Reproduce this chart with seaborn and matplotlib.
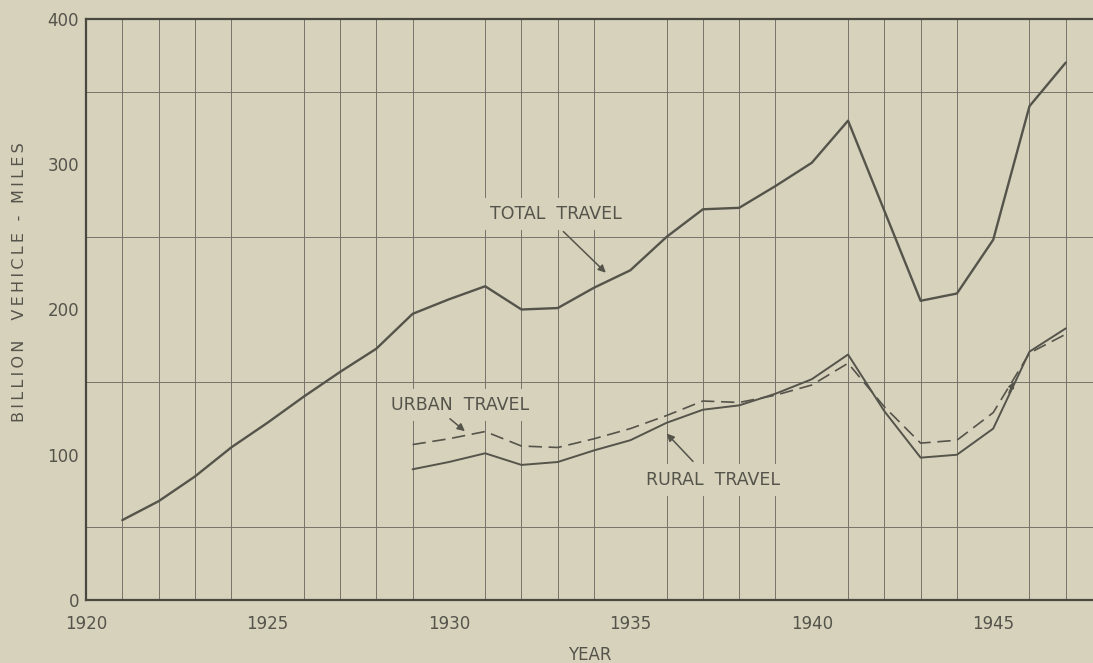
import numpy as np
import pandas as pd
import matplotlib.pyplot as plt
import seaborn as sns

# values (billion vehicle-miles)
years_total = list(range(1921, 1948))
total_travel = [55, 68, 85, 105, 122, 140, 157, 173, 197, 207, 216, 200, 201,
                215, 227, 250, 269, 270, 285, 301, 330, 268, 206, 211, 248, 340, 370]

years_split = list(range(1929, 1948))
urban_travel = [107, 111, 116, 106, 105, 111, 118, 127, 137, 136, 141, 148,
                163, 133, 108, 110, 129, 170, 183]
rural_travel = [90, 95, 101, 93, 95, 103, 110, 122, 131, 134, 142, 152,
                169, 130, 98, 100, 118, 171, 187]

x_labels = [1920, 1925, 1930, 1935, 1940, 1945]
y_labels = [0, 100, 200, 300, 400]

BG = "#d7d2bc"
INK = "#55544b"
GRID = "#75746a"

sns.set_theme(style="white")
plt.rcParams["font.family"] = ["DejaVu Sans"]


def spaced(text):
    """Widen lettering like the hand-lettered original (thin spaces)."""
    return "\u2009".join(text)


def make_frame():
    """Long-form table for seaborn."""
    df_total = pd.DataFrame({"year": years_total, "value": total_travel, "series": "total"})
    df_urban = pd.DataFrame({"year": years_split, "value": urban_travel, "series": "urban"})
    df_rural = pd.DataFrame({"year": years_split, "value": rural_travel, "series": "rural"})
    return pd.concat([df_total, df_urban, df_rural], ignore_index=True)


def main():
    df = make_frame()

    fig = plt.figure(figsize=(10.93, 6.63), dpi=100, facecolor=BG)
    ax = fig.add_axes([86 / 1093, 1 - 600 / 663, 1 - 86 / 1093, (600 - 19) / 663])
    ax.set_facecolor(BG)

    sns.lineplot(data=df[df.series == "total"], x="year", y="value", ax=ax,
                 color=INK, linewidth=1.7, zorder=3)
    sns.lineplot(data=df[df.series == "rural"], x="year", y="value", ax=ax,
                 color=INK, linewidth=1.4, zorder=3)
    sns.lineplot(data=df[df.series == "urban"], x="year", y="value", ax=ax,
                 color=INK, linewidth=1.2, dashes=(8, 4), zorder=3)

    ax.set_xlim(1920, 1947.75)
    ax.set_ylim(0, 400)
    ax.set_xticks(x_labels)
    ax.set_xticklabels([str(v) for v in x_labels])
    ax.set_xticks(range(1920, 1948), minor=True)
    ax.set_yticks(y_labels)
    ax.set_yticks(range(0, 401, 50), minor=True)
    ax.grid(False)
    ax.grid(which="minor", color=GRID, linewidth=0.7, zorder=1)
    ax.tick_params(which="both", length=0, colors=INK, labelsize=12)
    ax.tick_params(axis="x", pad=11)
    ax.tick_params(axis="y", pad=5)

    for side in ["left", "bottom", "top"]:
        ax.spines[side].set_color("#4a4940")
        ax.spines[side].set_linewidth(1.6)
    ax.spines["right"].set_visible(False)

    ax.set_xlabel("YEAR", fontsize=12, color=INK, labelpad=9)
    ax.set_ylabel("")
    fig.text(20 / 1093, 1 - 282 / 663, spaced("BILLION  VEHICLE - MILES"), rotation=90,
             ha="center", va="center", fontsize=11.5, color=INK)

    box = dict(facecolor=BG, edgecolor="none", pad=5)
    arrow = dict(arrowstyle="-|>", color=INK, linewidth=1.1, mutation_scale=11)

    ax.text(1932.95, 266, "TOTAL  TRAVEL", ha="center", va="center",
            fontsize=12.5, color=INK, bbox=box, zorder=4)
    ax.annotate("", xy=(1934.38, 224), xytext=(1933.1, 255),
                arrowprops=arrow, zorder=4)

    ax.text(1930.3, 134, "URBAN  TRAVEL", ha="center", va="center",
            fontsize=12.5, color=INK, bbox=box, zorder=4)
    ax.annotate("", xy=(1930.5, 115), xytext=(1929.97, 126),
                arrowprops=arrow, zorder=4)

    ax.text(1937.27, 82.5, "RURAL  TRAVEL", ha="center", va="center",
            fontsize=12.5, color=INK, bbox=box, zorder=4)
    ax.annotate("", xy=(1935.95, 116), xytext=(1936.78, 94),
                arrowprops=arrow, zorder=4)

    ax.annotate("", xy=(1945.6, 152), xytext=(1945.4, 141),
                arrowprops=dict(arrowstyle="-|>", color=INK, linewidth=1.0,
                                mutation_scale=9), zorder=4)

    fig.savefig("out.png", dpi=100, facecolor=BG)


if __name__ == "__main__":
    main()
